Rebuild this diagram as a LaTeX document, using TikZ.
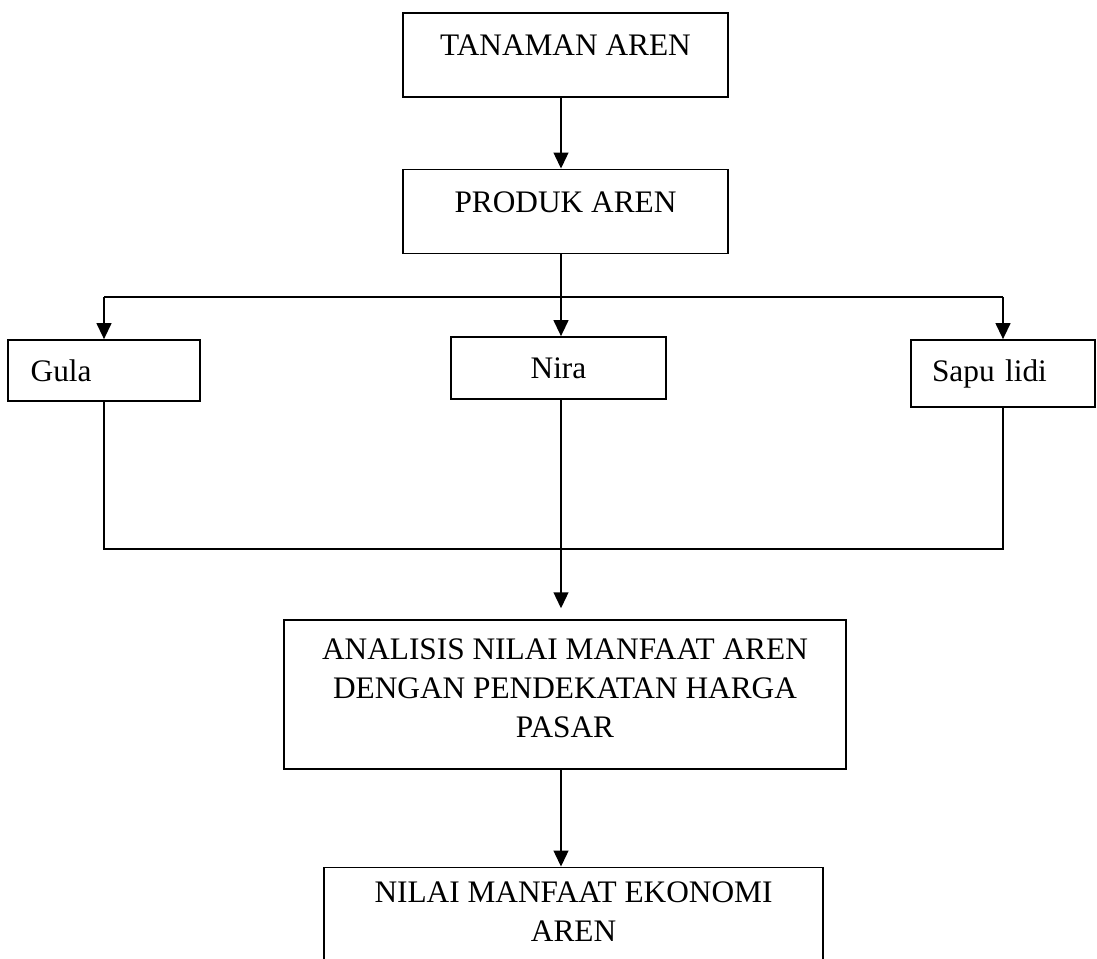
\documentclass[tikz,border=0pt]{standalone}
\usepackage{fontspec}
\setmainfont{Liberation Serif}
\usetikzlibrary{positioning,arrows.meta,calc}

\begin{document}
\begin{tikzpicture}[
      x=0.75pt,y=-0.75pt,
      txt/.style={font=\fontsize{23.5}{29.25}\selectfont},
      box/.style={draw=black,fill=white,line width=1.2pt,inner sep=0pt,align=center,txt},
      topbox/.style={box,minimum width=243.75pt,text height=32pt,text depth=31pt},
      leftbox/.style={box,align=left,inner xsep=17pt},
      arr/.style={-{Triangle[length=12pt,width=11pt]},line width=1.6pt},
      link/.style={line width=1.2pt}]
    \useasboundingbox (0,0) rectangle (1097,959);
    \clip (0,0) rectangle (1097,959);
    \node[topbox,anchor=north] (tanam) at (565.5,12) {TANAMAN AREN};
    \node[topbox,below=53.25pt of tanam] (produk) {PRODUK AREN};
    \node[leftbox,text width=110pt,minimum height=45.75pt] (gula) at (104,370.5) {Gula};
    \node[box,minimum width=161.25pt,minimum height=46.5pt] (nira) at (558.5,368) {Nira};
    \node[leftbox,inner xsep=15.75pt,text width=106.5pt,minimum height=50.25pt] (sapu) at (1003,373.5) {Sapu lidi};
    \node[box,anchor=north,minimum width=421.5pt,text height=88pt,text depth=23.75pt] (analisis) at (565,619)
      {ANALISIS NILAI MANFAAT AREN\\DENGAN PENDEKATAN HARGA\\PASAR};
    \node[box,below=72.75pt of analisis,xshift=6.4pt,minimum width=374.25pt,text height=55.7pt,text depth=100pt] (nilai)
      {NILAI MANFAAT EKONOMI\\AREN};
    \coordinate (spine) at (561,297);
    \coordinate (merge) at (561,549);
    \draw[arr] (tanam.south -| spine) -- (produk.north -| spine);
    \draw[arr] (produk.south -| spine) -- (nira.north -| spine);
    \draw[link] (spine -| gula) -- (spine -| sapu);
    \draw[arr] (spine -| gula) -- (gula.north);
    \draw[arr] (spine -| sapu) -- (sapu.north);
    \draw[link] (gula.south) -- (gula |- merge) -- (sapu |- merge) -- (sapu.south);
    \draw[arr,shorten >=8pt] (nira.south -| spine) -- (analisis.north -| spine);
    \draw[arr] (analisis.south -| spine) -- (nilai.north -| spine);
  \end{tikzpicture}
\end{document}
